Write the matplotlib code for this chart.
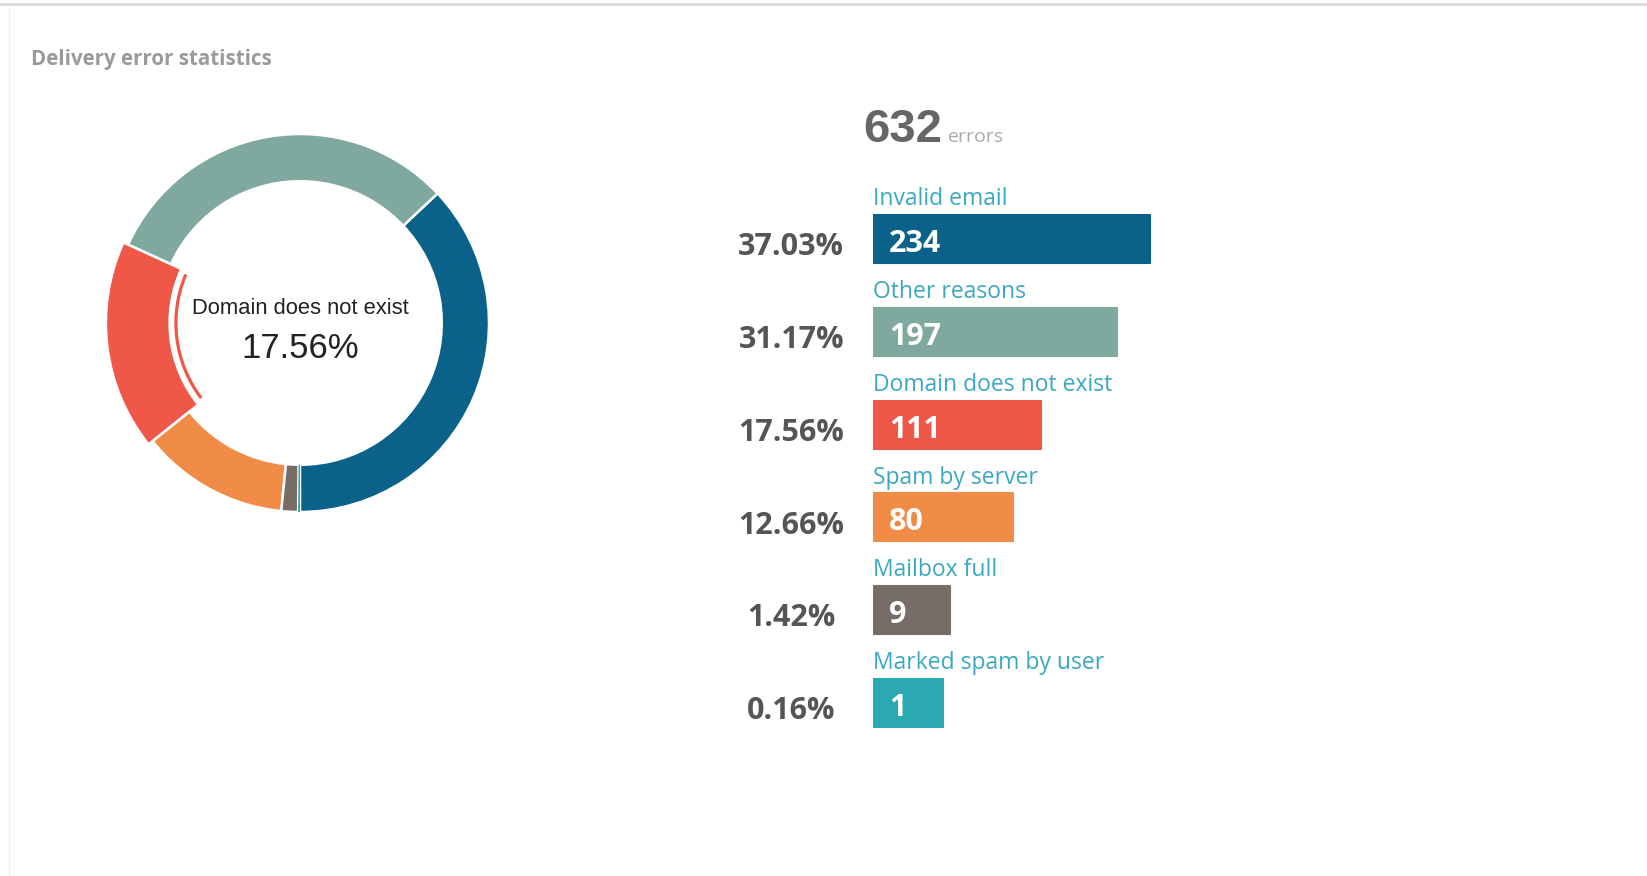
#!/usr/bin/env python3
"""Delivery error statistics: donut + horizontal bars"""

import numpy as np
import matplotlib.pyplot as plt
from matplotlib.patches import Wedge

reasons = ['Invalid email', 'Other reasons', 'Domain does not exist',
           'Spam by server', 'Mailbox full', 'Marked spam by user']
counts = [234, 197, 111, 80, 9, 1]
colors = ['#0a628a', '#7fa89f', '#ef5749', '#f08c45', '#786c67', '#2aaab0']
highlight = 2  # slice shown in the donut centre

total = sum(counts)
pcts = [100.0 * c / total for c in counts]

W, H = 1647, 876
fig = plt.figure(figsize=(W / 100, H / 100), dpi=100)
fig.patch.set_facecolor('white')


def px_axes(left, top, width, height):
    return fig.add_axes([left / W, 1 - (top + height) / H, width / W, height / H])


# panel border
fig.add_artist(plt.Line2D([0, 1], [1 - 4 / H, 1 - 4 / H], color='#dcdcdc', lw=2))
fig.add_artist(plt.Line2D([9 / W, 9 / W], [0, 1 - 6 / H], color='#f0f0f0', lw=1))

fig.text(31 / W, 1 - 59 / H, 'Delivery error statistics', fontsize=14.8,
         fontweight='bold', color='#9a9a9a', family='Open Sans', va='center')

# donut
R = 189
ax = px_axes(300 - 1.1 * R, 323 - 1.1 * R, 2.2 * R, 2.2 * R)
wedges, _ = ax.pie(counts, colors=colors, startangle=-90, counterclock=True,
                   radius=1, wedgeprops=dict(width=0.25, edgecolor='white', linewidth=1.8))
ax.set_xlim(-1.1, 1.1)
ax.set_ylim(-1.1, 1.1)
ax.axis('off')

# tiny last slice would vanish under the white separators
wedges[-1].set_linewidth(0)
wedges[-1].set_zorder(3)

w = wedges[highlight]
w.set_radius(1.027)
w.set_width(1.027 - 0.69)
ax.add_patch(Wedge((0, 0), 0.665, w.theta1 + 1.5, w.theta2 - 1.5, width=0.017,
                   facecolor=colors[highlight], edgecolor='none'))

ax.text(0, 0.076, reasons[highlight], ha='center', va='center', fontsize=15.8,
        family='Liberation Sans', color='#222222')
ax.text(0, -0.136, f'{pcts[highlight]:.2f}%', ha='center', va='center', fontsize=25,
        family='Liberation Sans', color='#222222')

# total
fig.text(863 / W, 1 - 142 / H, str(total), fontsize=34, fontweight='bold',
         family='Liberation Sans', color='#666666', va='baseline')
fig.text(948 / W, 1 - 142 / H, 'errors', fontsize=14, family='Open Sans',
         color='#aaaaaa', va='baseline')

# bars
pad = 78  # minimum bar length, in value units
ax2 = px_axes(873, 99.8, 710.4, 696)
pos = np.arange(len(counts))
ax2.barh(pos, np.array(counts) + pad, height=0.517, color=colors,
         edgecolor=colors, linewidth=1.5, joinstyle='round')
ax2.set_xlim(0, 800)
ax2.set_ylim(6, -1.5)
ax2.axis('off')

for i, (name, c, p) in enumerate(zip(reasons, counts, pcts)):
    ax2.text(0, i - 0.365, name, ha='left', va='baseline', fontsize=16.5,
             family='Open Sans', color='#3ba8c2')
    ax2.text(18, i + 0.14, str(c), ha='left', va='baseline', fontsize=22,
             fontweight='bold', family='Open Sans', color='white')
    ax2.text(-92, i + 0.175, f'{p:.2f}%', ha='center', va='baseline', fontsize=22,
             fontweight='bold', family='Open Sans', color='#555555', clip_on=False)

fig.savefig('out.png', dpi=100, facecolor='white')
